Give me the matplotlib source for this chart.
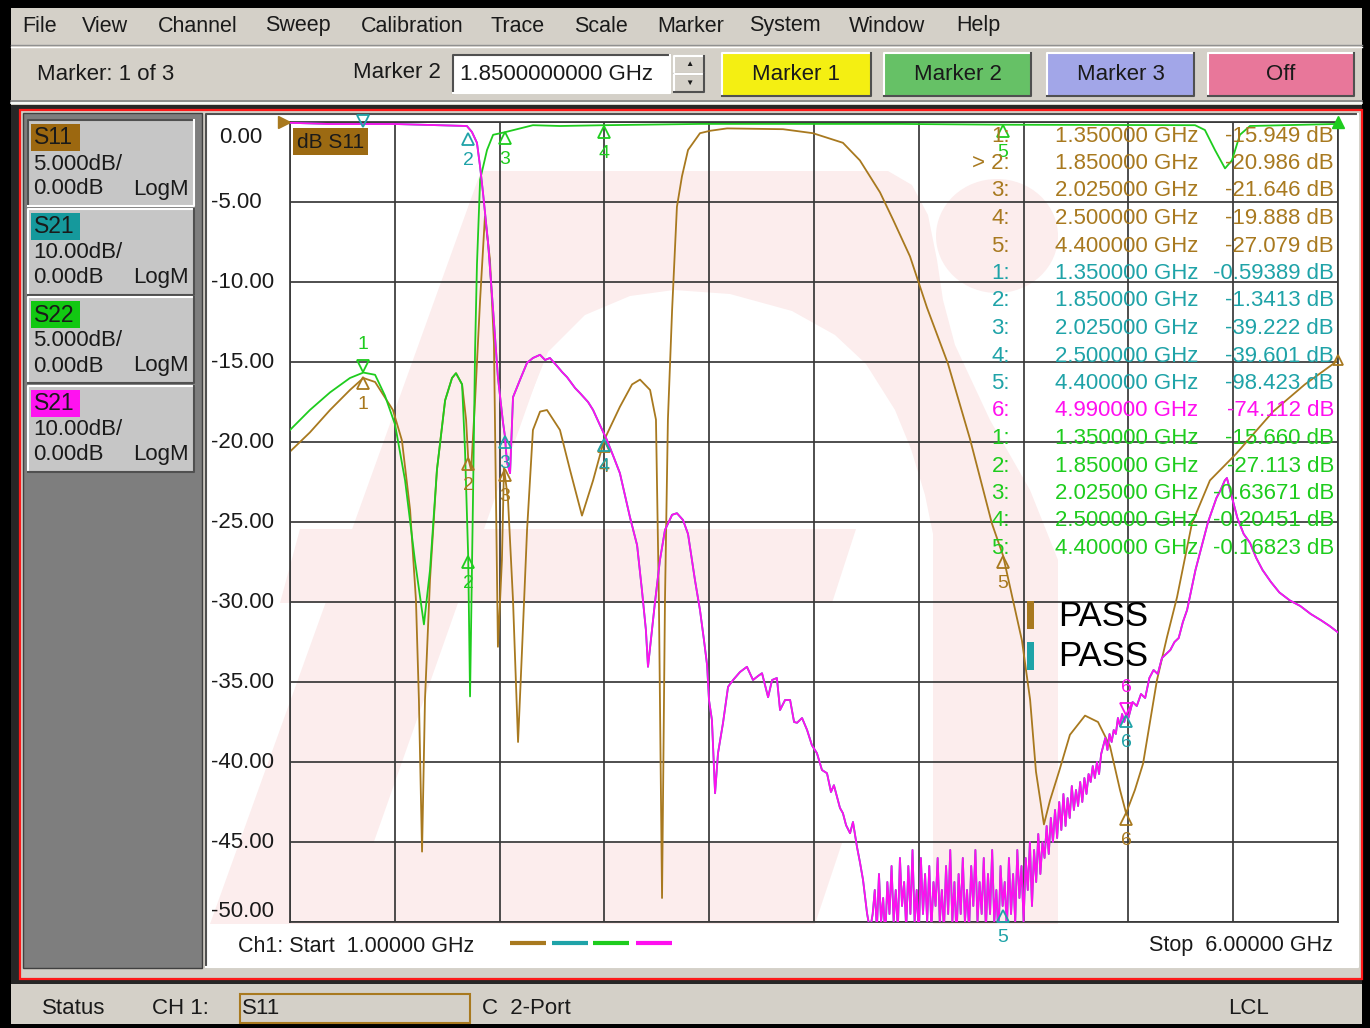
import numpy as np
import matplotlib.pyplot as plt
from matplotlib import patches, transforms

plt.rcParams['font.family'] = ['Liberation Sans', 'DejaVu Sans']

BROWN = '#A8791F'
CYAN = '#1FA3A8'
GREEN = '#1ECC1E'
MAGENTA = '#FF0FEF'
UI_GREY = '#D4D0C8'
INK = '#1A1A1A'
WATERMARK = '#FCEDED'

# ---- traces (GHz, dB) ----
# S11, 5 dB/div
s11_ghz = [1.000, 1.095, 1.191, 1.286, 1.350, 1.406, 1.491, 1.534, 1.573, 1.601, 1.615, 1.630,
           1.644, 1.668, 1.701, 1.740, 1.773, 1.792, 1.821, 1.840, 1.850, 1.864, 1.883, 1.907,
           1.930, 1.954, 1.973, 1.992, 2.011, 2.021, 2.040, 2.064, 2.088, 2.107, 2.131, 2.159,
           2.193, 2.226, 2.288, 2.336, 2.393, 2.446, 2.498, 2.574, 2.632, 2.670, 2.718, 2.746,
           2.760, 2.775, 2.789, 2.803, 2.823, 2.846, 2.870, 2.899, 2.956, 3.004, 3.085, 3.352,
           3.495, 3.638, 3.719, 3.815, 3.877, 3.958, 4.039, 4.139, 4.244, 4.349, 4.402, 4.492,
           4.531, 4.559, 4.597, 4.626, 4.669, 4.721, 4.793, 4.855, 4.912, 4.960, 4.989, 5.031,
           5.070, 5.136, 5.184, 5.232, 5.303, 5.389, 5.513, 5.690, 5.842, 6.000]
s11_db = [-20.6, -19.4, -18.0, -16.75, -16.0, -16.25, -18.0, -19.9, -24.25, -29.9, -36.1, -45.6,
          -36.1, -28.6, -21.75, -17.4, -16.0, -15.7, -16.4, -18.6, -21.0, -21.75, -17.4, -11.1,
          -5.9, -8.6, -13.8, -32.8, -27.4, -21.6, -23.6, -29.9, -38.75, -33.0, -25.5, -19.25,
          -18.1, -18.0, -19.25, -21.75, -24.6, -22.4, -19.9, -17.8, -16.4, -16.1, -16.75, -18.6,
          -29.9, -48.5, -29.9, -18.6, -11.75, -5.3, -3.4, -1.75, -0.7, -0.55, -0.4, -0.45,
          -0.7, -1.3, -2.4, -4.4, -6.1, -8.4, -11.6, -15.1, -19.8, -25.1, -27.1, -32.4,
          -36.1, -40.6, -43.9, -42.4, -40.6, -38.3, -37.1, -37.5, -39.0, -41.75, -43.2, -41.75,
          -40.1, -34.9, -32.2, -29.7, -25.1, -22.4, -20.75, -18.1, -16.4, -14.9]

# S22, 5 dB/div
s22_ghz = [1.000, 1.095, 1.191, 1.286, 1.350, 1.406, 1.453, 1.501, 1.549, 1.596, 1.639, 1.668,
           1.701, 1.740, 1.773, 1.792, 1.821, 1.835, 1.850, 1.859, 1.873, 1.883, 1.892, 1.907,
           1.940, 1.969, 2.025, 2.159, 2.288, 2.500, 2.956, 3.910, 4.400, 5.318, 5.365, 5.413,
           5.461, 5.494, 5.532, 5.580, 6.000]
s22_db = [-19.25, -18.0, -16.9, -16.0, -15.66, -15.8, -17.1, -18.9, -22.4, -27.4, -31.4, -28.0,
          -21.75, -17.4, -16.0, -15.7, -16.4, -20.5, -27.1, -35.9, -23.6, -14.25, -8.9, -3.6,
          -1.75, -0.8, -0.64, -0.2, -0.25, -0.2, -0.12, -0.12, -0.17, -0.2, -0.5, -1.75,
          -2.9, -2.4, -0.8, -0.25, -0.12]

# S21, 10 dB/div
s21_ghz = [1.000, 1.191, 1.501, 1.716, 1.844, 1.868, 1.892, 1.907, 1.921, 1.945, 1.969, 1.992,
           2.016, 2.025, 2.035, 2.050, 2.064, 2.097, 2.131, 2.159, 2.193, 2.217, 2.240, 2.274,
           2.298, 2.322, 2.360, 2.384, 2.422, 2.446, 2.479, 2.512, 2.546, 2.574, 2.622, 2.656,
           2.679, 2.698, 2.708, 2.727, 2.741, 2.765, 2.789, 2.823, 2.846, 2.875, 2.899, 2.932,
           2.956, 2.975, 2.990, 2.999, 3.013, 3.028, 3.042, 3.066, 3.090, 3.114, 3.147, 3.180,
           3.209, 3.233, 3.252, 3.281, 3.300, 3.323, 3.338, 3.362, 3.386, 3.405, 3.419, 3.443,
           3.467, 3.490, 3.514, 3.538, 3.562, 3.581, 3.595, 3.610, 3.624, 3.638, 3.653, 3.672,
           3.686, 3.705, 3.719, 3.734, 3.753, 3.767,
           3.78, 3.79, 3.80, 3.81, 3.82, 3.83, 3.84, 3.85, 3.86, 3.87, 3.88, 3.89, 3.90, 3.91,
           3.92, 3.93, 3.94, 3.95, 3.96, 3.97, 3.98, 3.99, 4.00, 4.01, 4.02, 4.03, 4.04, 4.05,
           4.06, 4.07, 4.08, 4.09, 4.10, 4.11, 4.12, 4.13, 4.14, 4.15, 4.16, 4.17, 4.18, 4.19,
           4.20, 4.21, 4.22, 4.23, 4.24, 4.25, 4.26, 4.27, 4.28, 4.29, 4.30, 4.31, 4.32, 4.33,
           4.34, 4.35, 4.36, 4.37, 4.38, 4.39, 4.40, 4.41, 4.42, 4.43, 4.44, 4.45, 4.46, 4.47,
           4.48, 4.49, 4.50, 4.51, 4.52, 4.53, 4.54, 4.55, 4.56, 4.57, 4.58, 4.59,
           4.60, 4.61, 4.62, 4.63, 4.64, 4.65, 4.66, 4.67, 4.68, 4.69, 4.70, 4.71, 4.72, 4.73,
           4.74, 4.75, 4.76, 4.77, 4.78, 4.79, 4.80, 4.81, 4.82, 4.83, 4.84, 4.85, 4.86, 4.87,
           4.88, 4.89, 4.90, 4.91, 4.92, 4.93, 4.94, 4.95, 4.96, 4.97, 4.98, 4.99, 5.00, 5.02,
           5.04, 5.06, 5.08, 5.10, 5.12, 5.14, 5.16, 5.18, 5.20, 5.22, 5.24, 5.26, 5.28, 5.30,
           5.32, 5.34, 5.36, 5.38, 5.40, 5.42, 5.44, 5.46, 5.47, 5.48, 5.50, 5.52, 5.55, 5.58,
           5.61, 5.64, 5.68, 5.72, 5.77, 5.82, 5.87, 5.92, 5.96, 6.00]
s21_db = [-0.1, -0.25, -0.25, -0.4, -0.5, -1.25, -2.6, -5.6, -8.9, -15.1, -23.5, -31.9,
          -37.5, -39.2, -42.5, -43.9, -34.4, -32.25, -30.1, -29.5, -29.1, -29.75, -29.5, -30.5,
          -31.25, -31.9, -33.25, -33.9, -35.0, -36.0, -37.9, -39.75, -42.0, -43.9, -49.4, -52.9,
          -58.5, -63.5, -68.1, -63.5, -60.1, -54.75, -51.0, -49.1, -48.9, -49.75, -51.5, -57.25,
          -61.0, -64.75, -67.9, -72.25, -74.75, -83.9, -78.9, -75.1, -70.6, -69.75, -68.75, -68.1,
          -69.75, -69.25, -68.9, -71.9, -69.75, -69.5, -73.5, -72.25, -72.25, -75.0, -75.1, -74.5,
          -76.0, -77.9, -78.9, -81.0, -81.4, -83.75, -82.9, -84.4, -85.75, -86.4, -87.9, -88.9,
          -87.5, -90.6, -92.5, -94.75, -98.9, -101.0,
          -99, -96, -101, -94, -100, -97, -102, -95, -99, -93, -100, -96, -101, -92,
          -98, -95, -101, -93, -99, -91, -100, -96, -102, -92, -99, -94, -100, -93,
          -101, -95, -98, -92, -100, -96, -101, -93, -99, -91, -100, -95, -102, -94,
          -99, -92, -100, -96, -101, -93, -98, -91, -100, -95, -99, -92, -101, -94,
          -99, -91, -100, -96, -102, -93, -98, -95, -101, -92, -99, -94, -100, -91,
          -97, -93, -100, -92, -96, -90, -98, -91, -95, -89, -94, -90,
          -92, -88, -91.5, -87, -90, -86, -89.5, -85, -88.5, -84, -88, -84.5, -87, -83,
          -86, -83.5, -85.5, -82.5, -85, -82, -84, -81.5, -82.5, -80.5, -82, -80, -81.5, -79,
          -78, -77, -78.5, -76.5, -77.5, -76, -76.5, -74.5, -75.5, -74, -75, -74.1, -74.5, -72.5,
          -73, -71.5, -72, -69.5, -68.5, -69, -67, -66.5, -66, -65, -64.5, -62.5, -61, -58.5,
          -56, -54, -52, -50, -48.5, -47, -46, -44.8, -44.5, -45.5, -47.5, -49.5, -51.5, -52.6,
          -54.5, -56, -57.5, -58.8, -59.8, -60.5, -61.5, -62.3, -63, -63.8]

# ---- marker readout ----
mk_ghz = [1.35, 1.85, 2.025, 2.5, 4.4]
s11_mk_db = [-15.949, -20.986, -21.646, -19.888, -27.079]
s21_mk_db = [-0.59389, -1.3413, -39.222, -39.601, -98.423]
s22_mk_db = [-15.660, -27.113, -0.63671, -0.20451, -0.16823]
mem_mk_ghz = 4.99
mem_mk_db = -74.112
s11_mk6_db = -43.2

tile_names = ['S11', 'S21', 'S22', 'S21']
tile_scales = ['5.000dB/', '10.00dB/', '5.000dB/', '10.00dB/']
tile_refs = ['0.00dB', '0.00dB', '0.00dB', '0.00dB']
tile_formats = ['LogM', 'LogM', 'LogM', 'LogM']
tile_colors = ['#9C6810', '#15999C', '#12C812', '#FF12F0']

menu_items = ['File', 'View', 'Channel', 'Sweep', 'Calibration', 'Trace', 'Scale',
              'Marker', 'System', 'Window', 'Help']
menu_x = [22, 82, 158, 265, 361, 491, 574, 657, 749, 849, 956]

y_ticks = np.arange(-50, 1, 5)
x_grid = np.arange(1.0, 6.01, 0.5)

W, H = 1370, 1028
fig = plt.figure(figsize=(13.7, 10.28), dpi=100, facecolor=UI_GREY)


def px_axes(label, z):
    a = fig.add_axes([0, 0, 1, 1], label=label, zorder=z)
    a.set_xlim(0, W)
    a.set_ylim(H, 0)
    a.axis('off')
    return a


def rect(a, x0, y0, x1, y1, fc, ec='none', lw=0, z=1):
    a.add_patch(patches.Rectangle((x0, y0), x1 - x0, y1 - y0, facecolor=fc,
                                  edgecolor=ec, lw=lw, zorder=z))


def bevel(a, x0, y0, x1, y1, fc, raised=True, z=1):
    rect(a, x0, y0, x1, y1, fc, z=z)
    hi, lo = ('white', '#505050') if raised else ('#505050', 'white')
    a.plot([x0, x0, x1], [y1, y0, y0], color=hi, lw=1.5, zorder=z + 0.1)
    a.plot([x0, x1, x1], [y1, y1, y0], color=lo, lw=1.5, zorder=z + 0.1)


ui = px_axes('ui', 0)

# window edges
rect(ui, 0, 0, W, 8, 'black')
rect(ui, 0, 0, 11, H, 'black')
rect(ui, 1362, 0, W, H, 'black')
rect(ui, 0, 1024, W, H, 'black')

# menu bar
for name, x in zip(menu_items, menu_x):
    ui.text(x, 26, name, fontsize=15.5, color=INK, va='center')
ui.plot([11, 1362], [45, 45], color='#909090', lw=1)
ui.plot([11, 1362], [47, 47], color='white', lw=1)

# toolbar
ui.text(37, 74, 'Marker: 1 of 3', fontsize=16, color=INK, va='center')
ui.text(353, 73, 'Marker 2', fontsize=16, color=INK, va='center')
bevel(ui, 453, 55, 670, 93, 'white', raised=False)
ui.text(460, 74, '1.8500000000 GHz', fontsize=16, color=INK, va='center')
bevel(ui, 674, 56, 704, 74, UI_GREY)
bevel(ui, 674, 74, 704, 92, UI_GREY)
ui.text(689, 65, '▲', fontsize=6, ha='center', va='center', color=INK)
ui.text(689, 83, '▼', fontsize=6, ha='center', va='center', color=INK)
buttons = [('Marker 1', 722, 871, '#F4EF12'), ('Marker 2', 884, 1031, '#66C166'),
           ('Marker 3', 1047, 1194, '#A2A6E8'), ('Off', 1208, 1354, '#E8779A')]
for lab, x0, x1, c in buttons:
    bevel(ui, x0, 53, x1, 96, c)
    ui.text((x0 + x1) / 2, 74, lab, fontsize=16, color=INK, ha='center', va='center', zorder=3)
ui.plot([11, 1362], [101, 101], color='#808080', lw=1.2)
ui.plot([11, 1362], [103, 103], color='white', lw=1.2)

# main frame
rect(ui, 11, 105, 1362, 984, '#262626')
ui.add_patch(patches.Rectangle((20, 110), 1342, 869, facecolor=UI_GREY, edgecolor='#FF1A1A',
                               lw=1.6, zorder=1))
rect(ui, 23, 113, 202, 968, '#7E7E7E', ec='#404040', lw=1, z=1.2)
bevel(ui, 206, 114, 1358, 967, 'white', raised=False, z=1.2)

# trace tiles
for k in range(4):
    y0 = 120 + 88.5 * k
    bevel(ui, 28, y0, 194, y0 + 86, '#C6C6C6', raised=(k != 0), z=1.5)
    rect(ui, 31, y0 + 4, 80, y0 + 31, tile_colors[k], z=1.8)
    ui.text(34, y0 + 18, tile_names[k], fontsize=16.5, color=INK, va='center', zorder=2)
    ui.text(33, y0 + 44, tile_scales[k], fontsize=16, color=INK, va='center', zorder=2)
    ui.text(33, y0 + 69, tile_refs[k], fontsize=16, color=INK, va='center', zorder=2)
    ui.text(189, y0 + 69, tile_formats[k], fontsize=16, color=INK, va='center', ha='right', zorder=2)

# faint logo watermark behind the graticule
wm = dict(facecolor=WATERMARK, edgecolor='none', zorder=1.4)
ui.add_patch(patches.Polygon([(481, 171), (888, 171), (912, 185), (928, 215), (937, 260),
                              (943, 300), (955, 345), (990, 420), (1030, 490), (1058, 560),
                              (1058, 924), (500, 924)], **wm))
ui.add_patch(patches.Polygon([(344, 924), (526, 407), (548, 352), (585, 315), (630, 296),
                              (674, 290), (730, 294), (792, 311), (835, 335), (866, 364),
                              (895, 410), (911, 449), (925, 495), (933, 534), (933, 924)],
                             facecolor='white', edgecolor='none', zorder=1.45))
ui.add_patch(patches.Polygon([(210, 924), (345, 924), (610, 171), (481, 171)], **{**wm, 'zorder': 1.5}))
ui.add_patch(patches.Polygon([(300, 529), (856, 529), (832, 603), (280, 603)], **{**wm, 'zorder': 1.5}))
ui.add_patch(patches.Polygon([(250, 843), (842, 843), (815, 924), (220, 924)], **{**wm, 'zorder': 1.5}))
ui.add_patch(patches.Ellipse((997, 236), 122, 114, **{**wm, 'zorder': 1.5}))

# status bar
ui.text(42, 1009, 'Status', fontsize=16, color=INK, va='center')
ui.text(152, 1009, 'CH 1:', fontsize=16, color=INK, va='center')
rect(ui, 240, 994, 470, 1023, 'none', ec=BROWN, lw=1.5)
ui.text(242, 1009, 'S11', fontsize=16, color=INK, va='center')
ui.text(482, 1009, 'C  2-Port', fontsize=16, color=INK, va='center')
ui.text(1228, 1009, 'LCL', fontsize=16, color=INK, va='center')

# ---- graticule ----
ax = fig.add_axes([290 / W, (H - 922) / H, 1048 / W, 800 / H], zorder=1)
ax.set_facecolor('none')
ax.set_xlim(1, 6)
ax.set_ylim(-50, 0)
ax.set_xticks(x_grid)
ax.set_yticks(y_ticks)
ax.set_xticklabels([])
ax.set_yticklabels([])
ax.tick_params(length=0)
ax.grid(True, color='#383838', lw=1.25)
ax.set_axisbelow(True)
for sp in ax.spines.values():
    sp.set_color('#383838')
    sp.set_linewidth(1.25)

ax.plot(s11_ghz, s11_db, color=BROWN, lw=1.3, zorder=2)
ax.plot(s22_ghz, s22_db, color=GREEN, lw=1.3, zorder=3)

ax2 = ax.twinx()
ax2.set_ylim(-100, 0)
ax2.axis('off')
ax2.plot(s21_ghz, s21_db, color=CYAN, lw=1.3, zorder=2)
ax2.plot(s21_ghz, s21_db, color=MAGENTA, lw=1.3, zorder=3)


def marker(axis, f, v, n, color, above=False, show_num=True):
    sgn = 1 if above else -1
    tri = transforms.offset_copy(axis.transData, fig=fig, x=0, y=sgn * 4.5, units='points')
    axis.plot([f], [v], marker='v' if above else '^', ms=9, mfc='none', mec=color,
              mew=1.3, transform=tri, clip_on=False, zorder=6)
    if show_num:
        axis.annotate(str(n), (f, v), xytext=(0, sgn * 20), textcoords='offset points',
                      ha='center', va='center', color=color, fontsize=14, zorder=6,
                      annotation_clip=False)


for i, f in enumerate(mk_ghz):
    marker(ax, f, s11_mk_db[i], i + 1, BROWN)
    marker(ax, f, s22_mk_db[i], i + 1, GREEN, above=(i == 0))
    marker(ax2, f, s21_mk_db[i], i + 1, CYAN, above=(i == 0), show_num=(i != 0))
marker(ax, mem_mk_ghz, s11_mk6_db, 6, BROWN)
marker(ax2, mem_mk_ghz, mem_mk_db, 6, CYAN)
marker(ax2, mem_mk_ghz, mem_mk_db, 6, MAGENTA, above=True)

# reference and trace-end indicators
ref = transforms.offset_copy(ax.transData, fig=fig, x=-4, y=0, units='points')
ax.plot([1.0], [0.0], marker='>', ms=9, color=BROWN, transform=ref, clip_on=False, zorder=7)
ax.plot([s11_ghz[-1]], [s11_db[-1]], marker='^', ms=7, mfc='none', mec=BROWN, mew=1.3,
        clip_on=False, zorder=7)
ax.plot([6.0], [0.0], marker='^', ms=9, color=GREEN, clip_on=False, zorder=7)

# ---- overlay texts ----
top = px_axes('top', 5)
blend = transforms.blended_transform_factory(top.transData, ax.transData)
for v in y_ticks:
    va = 'top' if v == 0 else ('bottom' if v == -50 else 'center')
    dy = -0.3 if v == 0 else 0
    top.text(219 if v == 0 else 211, v + dy, f'{v:.2f}', transform=blend, fontsize=16,
             color=INK, ha='left', va=va)

rect(top, 293, 128, 368, 155, '#9C6A12', z=3)
top.text(297, 142, 'dB S11', fontsize=15, color=INK, va='center', zorder=4)

rows = [(f'{i + 1}:', f, v, BROWN) for i, (f, v) in enumerate(zip(mk_ghz, s11_mk_db))]
rows += [(f'{i + 1}:', f, v, CYAN) for i, (f, v) in enumerate(zip(mk_ghz, s21_mk_db))]
rows += [('6:', mem_mk_ghz, mem_mk_db, MAGENTA)]
rows += [(f'{i + 1}:', f, v, GREEN) for i, (f, v) in enumerate(zip(mk_ghz, s22_mk_db))]
for r, (num, f, v, c) in enumerate(rows):
    y = 136 + 27.5 * r
    top.text(1010, y, ('> ' + num) if r == 1 else num, fontsize=16, color=c, ha='right', va='center')
    top.text(1055, y, f'{f:.6f} GHz', fontsize=16, color=c, ha='left', va='center')
    top.text(1334, y, f'{v:#.5g} dB', fontsize=16, color=c, ha='right', va='center')

rect(top, 1027, 601, 1034, 629, BROWN, z=3)
rect(top, 1027, 642, 1034, 670, CYAN, z=3)
top.text(1058, 616, 'PASS', fontsize=25, color='black', va='center')
top.text(1058, 657, 'PASS', fontsize=25, color='black', va='center')

top.text(238, 946, 'Ch1: Start  1.00000 GHz', fontsize=15.5, color=INK, va='center')
top.text(1333, 946, 'Stop  6.00000 GHz', fontsize=15.5, color=INK, va='center', ha='right')
for c, x0 in zip([BROWN, CYAN, GREEN, MAGENTA], [510, 552, 593, 636]):
    top.plot([x0, x0 + 36], [943, 943], color=c, lw=3, solid_capstyle='butt')

fig.savefig('out.png', dpi=100, facecolor=fig.get_facecolor())
